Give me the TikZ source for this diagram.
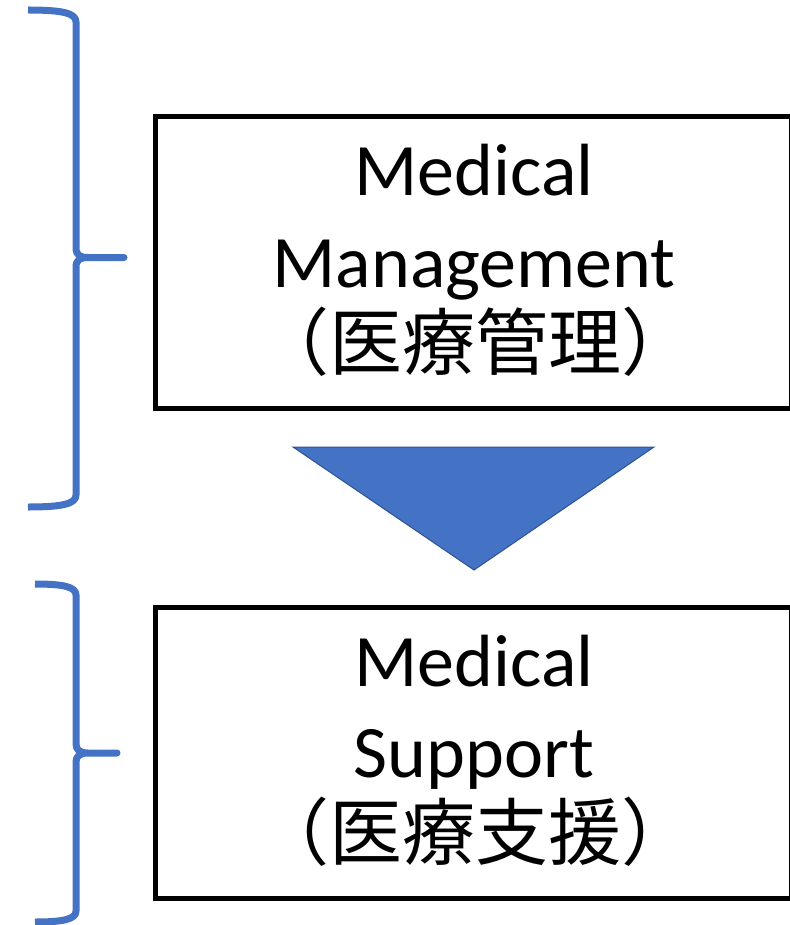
\documentclass[tikz,border=0pt]{standalone}
\usepackage{fontspec}
\setmainfont{Carlito}
\newfontfamily\jpfont{Noto Sans CJK JP}
\definecolor{brace}{HTML}{4472C4}
\definecolor{tri}{HTML}{4472C4}
\definecolor{triedge}{HTML}{2F528F}
\begin{document}
\begin{tikzpicture}[x=1pt,y=-1pt,
  box/.style={draw=black,line width=5pt,minimum width=636pt,minimum height=291pt,inner sep=0pt},
  en/.style={anchor=base,inner sep=0pt,font=\fontsize{74}{74}\selectfont},
  jp/.style={anchor=base,inner sep=0pt,font=\fontsize{73}{73}\selectfont\jpfont},
  bracestyle/.style={draw=brace,line width=7pt,line join=round}]
\useasboundingbox (0,0) rectangle (789,925);
% boxes
\node[box] (b1) at (473,262.5) {};
\node[box] (b2) at (473,753) {};
% texts
\node[en] (t1a) at (474,196) {Medical};
\node[en] (t1b) at (474,287) {Management};
\node[jp] (t1c) at (475,369) {（医療管理）};
\node[en] (t2a) at (474,686) {Medical};
\node[en] (t2b) at (474,777) {Support};
\node[jp] (t2c) at (475,859) {（医療支援）};
% arrow triangle
\filldraw[fill=tri,draw=triedge,line width=1pt] (293,447) -- (654,447) -- (474,570) -- cycle;
% braces
\draw[bracestyle] (28,10) .. controls (62,10) and (76,13) .. (76,22) -- (76,248)
  .. controls (76,255) and (80,257.5) .. (88,257.5) -- (124,257.5) -- (88,257.5)
  .. controls (80,257.5) and (76,260) .. (76,267) -- (76,495)
  .. controls (76,504) and (62,507) .. (28,507);
\draw[bracestyle] (35,584) .. controls (64,584) and (76,587) .. (76,595) -- (76,744)
  .. controls (76,750) and (80,753) .. (88,753) -- (117,753) -- (88,753)
  .. controls (80,753) and (76,756) .. (76,762) -- (76,911)
  .. controls (76,919) and (64,922) .. (35,922);
\end{tikzpicture}
\end{document}
